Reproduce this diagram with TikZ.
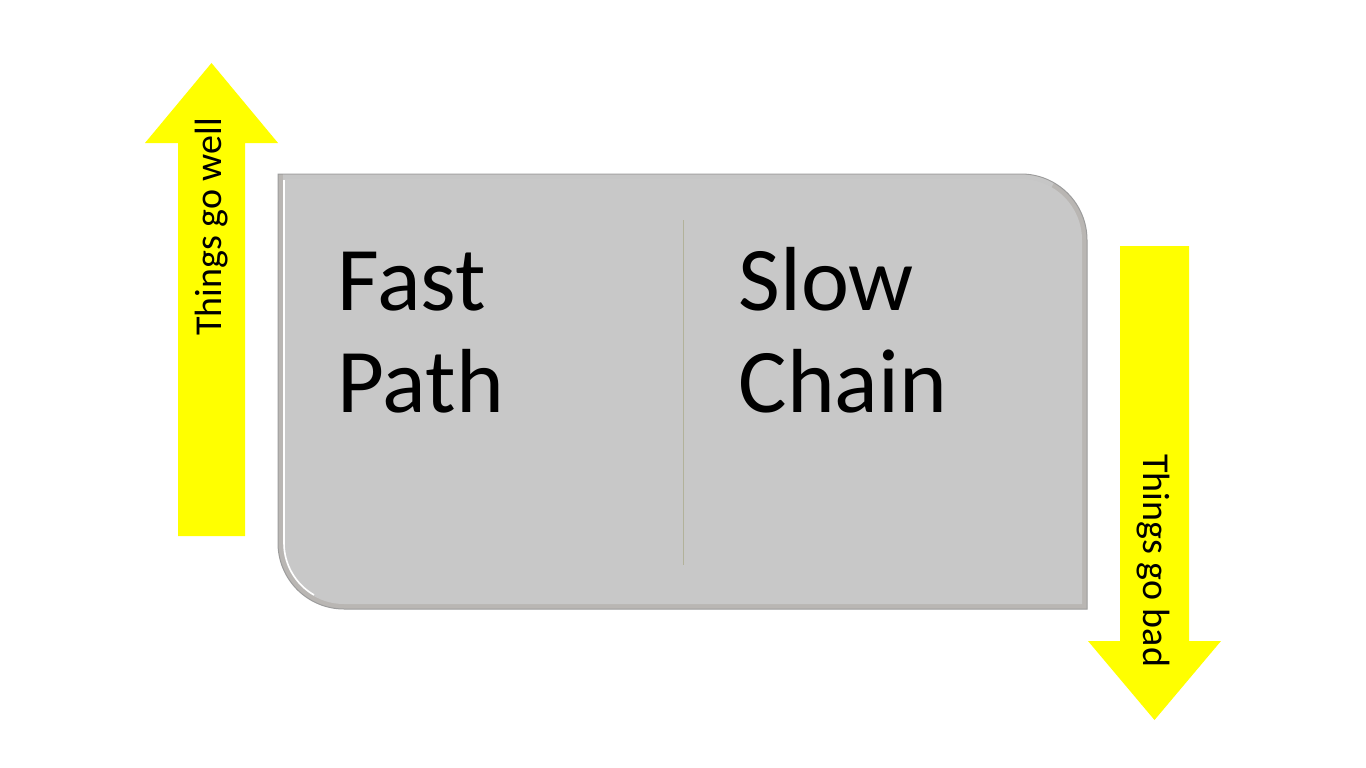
\documentclass[tikz,border=0pt]{standalone}
\usepackage{fontspec}
\setmainfont{Carlito}
\usetikzlibrary{calc}
\definecolor{boxfill}{HTML}{C8C8C8}
\definecolor{bevelcol}{HTML}{B9B6B3}
\definecolor{edgecol}{HTML}{9C9C9C}
\definecolor{arrowyellow}{HTML}{FFFF00}
\definecolor{divcol}{HTML}{B2B29A}
\tikzset{
  bigtext/.style={inner sep=0pt, anchor=base west, font=\fontsize{91}{102}\selectfont},
  arrowtext/.style={inner sep=0pt, anchor=base west, font=\fontsize{38}{44}\selectfont},
  yarrow/.style={fill=arrowyellow, draw=none}
}
\begin{document}
\begin{tikzpicture}[x=1pt, y=-1pt]
\useasboundingbox (0,0) rectangle (1366,768);
\fill[white] (0,0) rectangle (1366,768);

% left arrow (up)
\path[yarrow] (178,536) -- (178,143) -- (145,143) -- (211.5,63) -- (278,143) -- (245,143) -- (245,536) -- cycle;
% right arrow (down)
\path[yarrow] (1120,246) -- (1189,246) -- (1189,641) -- (1221,641) -- (1154.5,720) -- (1088,641) -- (1120,641) -- cycle;

% box outer (bevel)
\filldraw[fill=bevelcol, draw=edgecol, line width=1pt]
  (278,174) -- (1021,174) arc[start angle=-90, end angle=0, radius=66]
  -- (1087,609) -- (344,609) arc[start angle=90, end angle=180, radius=66] -- cycle;
% top band lighter
\fill[boxfill!90!bevelcol] (283,174.6) -- (1021,174.6) arc[start angle=-90, end angle=-60, radius=65.4]
  -- ($(1021,240)+(-60:60.5)$) arc[start angle=-60, end angle=-90, radius=60.5] -- (283,179.5) -- cycle;
% box inner face
\fill[boxfill]
  (283,179) -- (1021,179) arc[start angle=-90, end angle=0, radius=61]
  -- (1082,604) -- (344,604) arc[start angle=90, end angle=180, radius=61] -- cycle;
% white highlight along the left
\draw[white, line width=1.6pt] (284,180) -- (284,543) arc[start angle=180, end angle=120, radius=60];

% divider
\draw[divcol, line width=1pt] (683,220) coordinate (d1) -- (683,565) coordinate (d2);

% texts
\node[bigtext] (fast) at (337.5,310.7) {Fast};
\node[bigtext] (path) at (337.5,412.7) {Path};
\node[bigtext] (slow) at (738.5,310.7) {Slow};
\node[bigtext] (chain) at (738.5,412.7) {Chain};

\node[arrowtext, rotate=90] (well) at (221.5,336) {Things go well};
\node[arrowtext, rotate=-90] (bad) at (1143,454) {Things go bad};
\end{tikzpicture}
\end{document}
